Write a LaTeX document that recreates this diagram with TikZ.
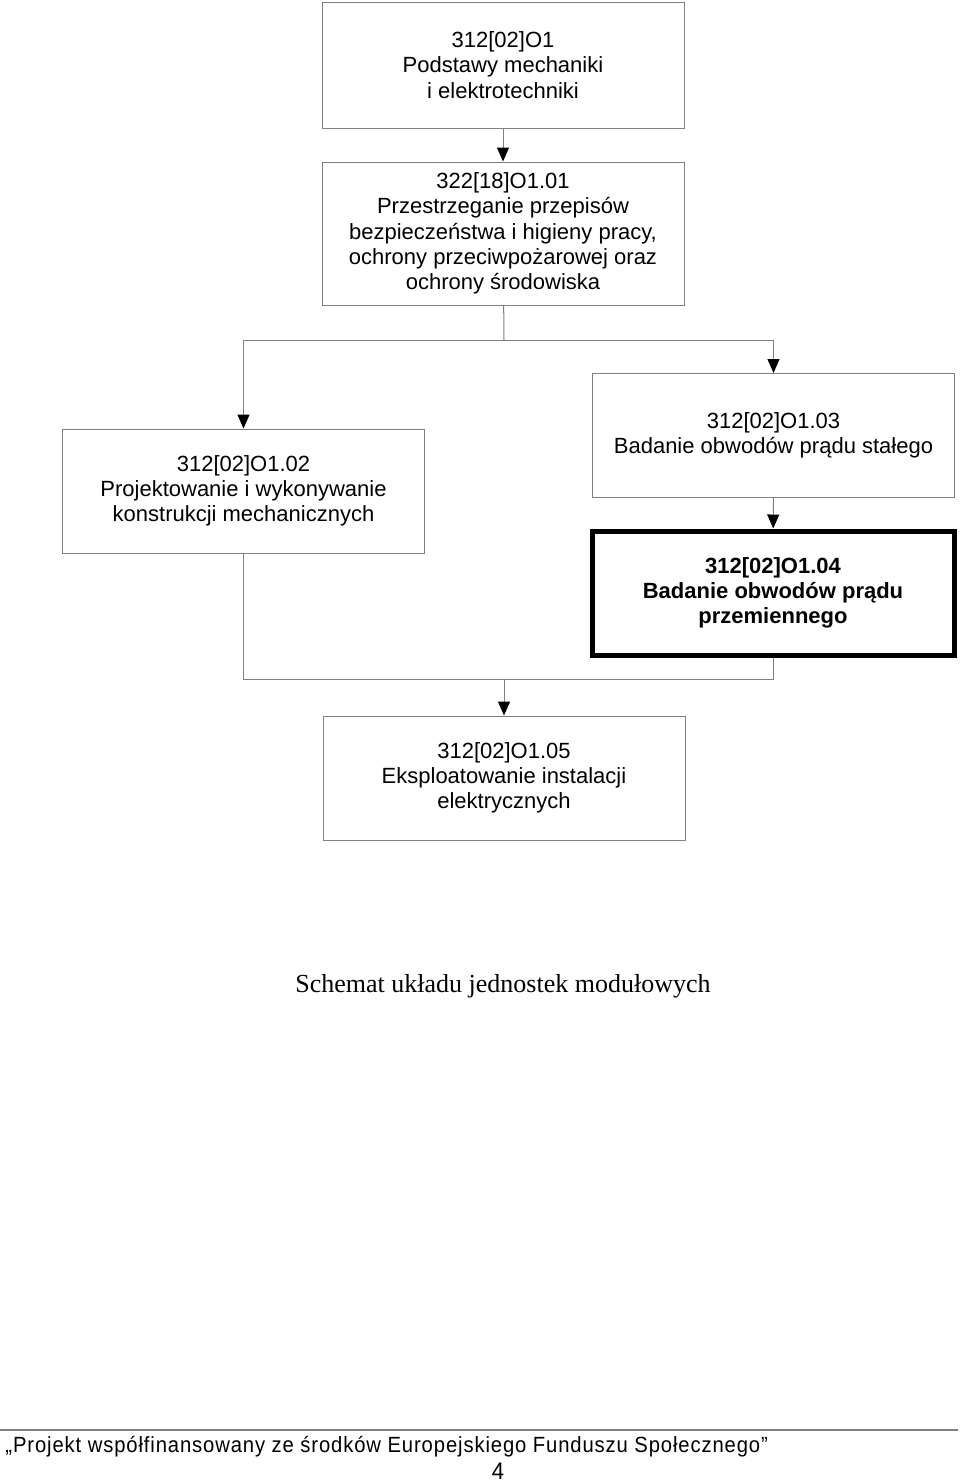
\documentclass[tikz,border=0pt]{standalone}
\usepackage{fontspec}
\setmainfont{Liberation Sans}
\newfontfamily\captionfont{Liberation Serif}
\newfontfamily\footfont[LetterSpace=4,FakeStretch=0.92]{Liberation Sans}
\usepackage{tikz}
\usetikzlibrary{arrows.meta,positioning,calc}
\usepackage{xcolor}

\begin{document}
\begin{tikzpicture}[
				x=0.5pt,y=-0.5pt,
				modul/.style={draw=gray,line width=0.5pt,rectangle,minimum width=181pt,minimum height=62pt,inner sep=2pt,align=center,font=\fontsize{11}{12.6}\selectfont},
				linia/.style={draw=gray,line width=0.5pt},
				strzalka/.style={linia,-{Triangle[width=6pt,length=7pt,color=black]}}
				]
				\useasboundingbox (0,0) rectangle (960,1484);
				
				\node[modul] (m01) at (503,65) [minimum height=63pt] {312[02]O1\\Podstawy mechaniki\\i elektrotechniki};
				\node[modul] (m0101) at (503,233.5) [minimum height=71.5pt] {322[18]O1.01\\Przestrzeganie przepisów\\bezpieczeństwa i higieny pracy,\\ochrony przeciwpożarowej oraz\\ochrony środowiska};
				\node[modul] (m0102) at (243.5,491) {312[02]O1.02\\Projektowanie i wykonywanie\\konstrukcji mechanicznych};
				\node[modul] (m0103) at (773.5,435.5) {312[02]O1.03\\Badanie obwodów prądu stałego};
				\node[modul,draw=black,line width=2.5pt,font=\fontsize{11}{12.6}\selectfont\bfseries] (m0104) at (773,593) {312[02]O1.04\\Badanie obwodów prądu\\przemiennego};
				\node[modul] (m0105) at (504,778) {312[02]O1.05\\Eksploatowanie instalacji\\elektrycznych};
				
				\coordinate (rozgalezienie) at (504,340);
				\coordinate (zbieg) at (504,679);
				
				% Polaczenia
				\draw[strzalka] (m01) -- (m0101);
				\draw[linia] (m0101) -- (rozgalezienie);
				\draw[strzalka] (rozgalezienie) -| (m0102);
				\draw[strzalka] (rozgalezienie) -| (m0103);
				\draw[strzalka] (m0103) -- (m0104);
				\draw[linia] (m0102) |- (zbieg);
				\draw[linia] (m0104) |- (zbieg);
				\draw[strzalka] (zbieg) -- (m0105);
				
				\node[font=\captionfont\fontsize{13}{16}\selectfont] (podpis) at (503,986) {Schemat układu jednostek modułowych};
				
				% Stopka
				\coordinate (stopkaL) at (0,1430);
				\coordinate (stopkaP) at (958,1430);
				\draw[gray,line width=1pt] (stopkaL) -- (stopkaP);
				\node[font=\footfont\fontsize{11}{13}\selectfont,anchor=west,inner sep=0pt] (projekt) at (5,1447) {„Projekt współfinansowany ze środków Europejskiego Funduszu Społecznego”};
				\node[font=\footfont\fontsize{12}{14}\selectfont,anchor=north,inner sep=0pt] (strona) at (498,1463) {4};
				
			\end{tikzpicture}
\end{document}
